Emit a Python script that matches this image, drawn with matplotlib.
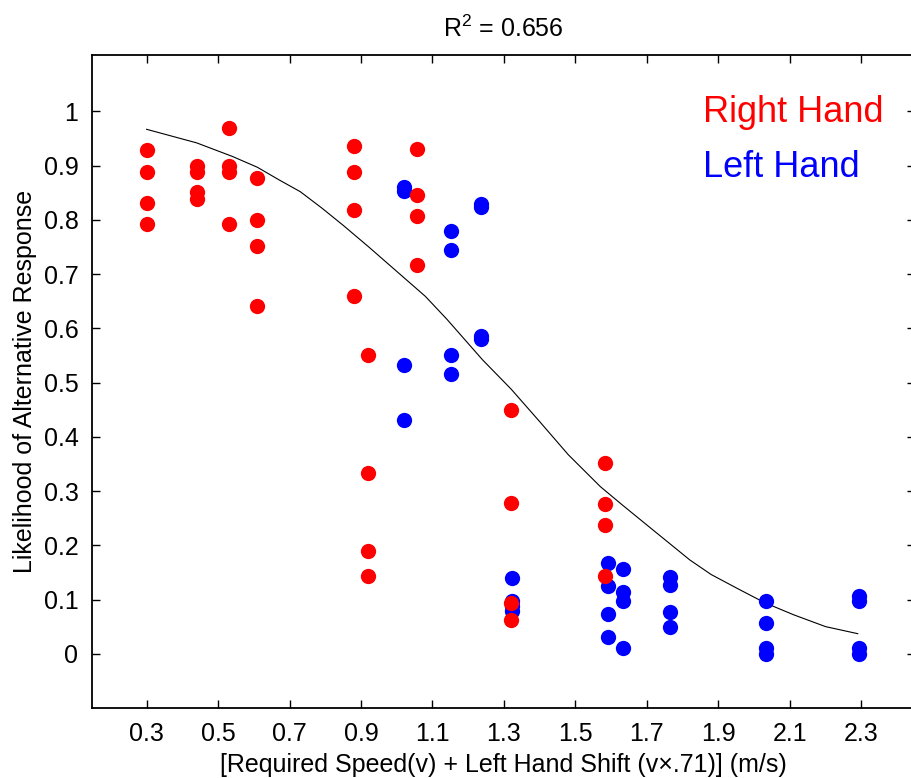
import matplotlib
matplotlib.use('Agg')
import matplotlib.pyplot as plt

plt.rcParams['font.family'] = ['Liberation Sans', 'DejaVu Sans']
plt.rcParams['mathtext.default'] = 'regular'

# right hand trials: speed column -> likelihood values
right_x = [0.30] * 4 + [0.44] * 4 + [0.53] * 4 + [0.61] * 4 + [0.88] * 4 + \
          [0.92] * 4 + [1.056] * 4 + [1.32] * 4 + [1.584] * 4
right_y = [0.928, 0.888, 0.832, 0.793,
           0.899, 0.889, 0.852, 0.839,
           0.969, 0.900, 0.888, 0.793,
           0.878, 0.800, 0.752, 0.642,
           0.937, 0.888, 0.818, 0.660,
           0.551, 0.334, 0.189, 0.143,
           0.931, 0.846, 0.808, 0.716,
           0.450, 0.278, 0.094, 0.063,
           0.352, 0.277, 0.238, 0.144]

# left hand trials (shifted speeds)
left_x = [1.02] * 4 + [1.152] * 4 + [1.237] * 4 + [1.322] * 4 + [1.59] * 4 + \
         [1.632] * 4 + [1.766] * 4 + [2.032] * 4 + [2.293] * 4
left_y = [0.860, 0.853, 0.533, 0.431,
          0.779, 0.744, 0.551, 0.516,
          0.830, 0.824, 0.585, 0.581,
          0.140, 0.098, 0.088, 0.078,
          0.168, 0.125, 0.073, 0.031,
          0.157, 0.113, 0.098, 0.010,
          0.141, 0.126, 0.077, 0.049,
          0.098, 0.057, 0.011, 0.000,
          0.106, 0.097, 0.011, 0.000]

# fitted logistic curve
fit_x = [0.30, 0.44, 0.54, 0.61, 0.67, 0.73, 0.79, 0.85, 0.92, 1.00, 1.08, 1.14,
         1.24, 1.32, 1.40, 1.48, 1.57, 1.63, 1.71, 1.82, 1.88, 1.96, 2.03, 2.11,
         2.20, 2.29]
fit_y = [0.967, 0.942, 0.917, 0.897, 0.874, 0.852, 0.822, 0.790, 0.751, 0.705,
         0.659, 0.617, 0.542, 0.488, 0.428, 0.367, 0.308, 0.275, 0.232, 0.173,
         0.146, 0.118, 0.094, 0.072, 0.050, 0.037]

r2 = 0.656
xticks = [0.3, 0.5, 0.7, 0.9, 1.1, 1.3, 1.5, 1.7, 1.9, 2.1, 2.3]
yticks = [0, 0.1, 0.2, 0.3, 0.4, 0.5, 0.6, 0.7, 0.8, 0.9, 1]

fig = plt.figure(figsize=(9.11, 7.78), dpi=100)
ax = fig.add_axes([0.1013, 0.09, 0.903, 0.8393])

ax.plot(fit_x, fit_y, color='black', lw=0.8, zorder=2)
ax.plot(left_x, left_y, 'o', color='#0000ff', ms=11, mec='none', zorder=3)
ax.plot(right_x, right_y, 'o', color='#ff0000', ms=11, mec='none', zorder=4)

ax.text(1.856, 0.998, 'Right Hand', color='#ff0000', fontsize=26, va='center', ha='left')
ax.text(1.856, 0.896, 'Left Hand', color='#0000ff', fontsize=26, va='center', ha='left')

ax.set_xlim(0.148, 2.45)
ax.set_ylim(-0.1, 1.104)
ax.set_xticks(xticks)
ax.set_xticklabels([f'{v:g}' for v in xticks])
ax.set_yticks(yticks)
ax.set_yticklabels([f'{v:g}' for v in yticks])
ax.tick_params(direction='in', length=6, width=1, labelsize=18, top=True, right=True)
ax.tick_params(axis='x', pad=10)
ax.tick_params(axis='y', pad=10)
for s in ax.spines.values():
    s.set_linewidth(1.3)

ax.set_title(f'R$^2$ = {r2}', fontsize=18, pad=13)
ax.set_xlabel('[Required Speed(v) + Left Hand Shift (v\u00d7.71)] (m/s)', fontsize=18, labelpad=5)
ax.set_ylabel('Likelihood of Alternative Response', fontsize=18, labelpad=5)

fig.savefig('out.png', dpi=100)
